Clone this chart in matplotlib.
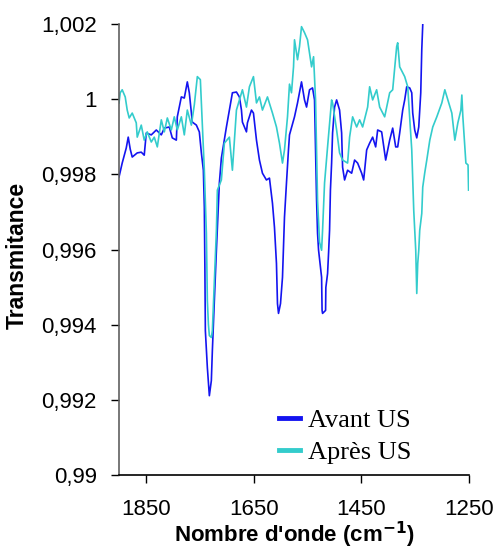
import matplotlib
matplotlib.use("Agg")
import matplotlib.pyplot as plt
from matplotlib.ticker import FuncFormatter

# Spectre avant ultrasons (nombre d'onde, transmittance)
avant_x = [1900, 1894.1, 1886.6, 1882.9, 1879.2, 1875.5, 1866.2, 1858.7, 1853.2, 1849.4,
           1840.1, 1830.8, 1821.5, 1815.9, 1806.7, 1801.1, 1793.6, 1791.8, 1784.3, 1778.8,
           1773.2, 1769.5, 1763.9, 1756.4, 1750.9, 1747.1, 1743.4, 1741.6, 1740.6, 1739.7,
           1736.0, 1732.3, 1728.6, 1726.7, 1723.0, 1719.2, 1713.7, 1710.0, 1700.6, 1695.1,
           1689.5, 1682.0, 1676.5, 1672.7, 1670.9, 1663.4, 1661.6, 1654.1, 1650.4, 1644.8,
           1639.3, 1633.7, 1626.3, 1620.7, 1615.1, 1611.4, 1607.7, 1605.8, 1603.9, 1600.2,
           1596.5, 1592.8, 1589.1, 1585.4, 1583.5, 1574.2, 1568.6, 1561.2, 1555.6, 1551.8,
           1546.3, 1540.7, 1537.0, 1533.2, 1531.4, 1529.5, 1523.9, 1523.0, 1522.1, 1516.5,
           1516.0, 1512.8, 1510.9, 1509.1, 1507.5, 1505.3, 1503.5, 1499.8, 1496.0, 1490.5,
           1486.7, 1484.9, 1481.2, 1475.6, 1468.1, 1462.6, 1457.0, 1449.5, 1445.8, 1440.2,
           1434.7, 1429.1, 1423.5, 1419.8, 1412.4, 1404.9, 1397.5, 1391.9, 1386.3, 1382.6,
           1378.9, 1373.3, 1369.6, 1365.9, 1360.3, 1356.5, 1354.7, 1351.0, 1347.2, 1343.5,
           1339.8, 1337.9, 1336.1, 1335.5]
avant_y = [0.99793, 0.99830, 0.99870, 0.99899, 0.99867, 0.99846, 0.99857, 0.99859, 0.99851, 0.99910,
           0.99905, 0.99918, 0.99905, 0.99923, 0.99926, 0.99897, 0.99891, 0.99953, 1.00006, 1.00003,
           1.00046, 1.00017, 0.99939, 0.99931, 0.99913, 0.99857, 0.99811, 0.99712, 0.99552, 0.99384,
           0.99286, 0.99211, 0.99251, 0.99331, 0.99464, 0.99598, 0.99777, 0.99843, 0.99926, 0.99971,
           1.00017, 1.00019, 1.00006, 0.99971, 0.99939, 0.99913, 0.99937, 0.99971, 0.99963, 0.99891,
           0.99838, 0.99803, 0.99785, 0.99790, 0.99723, 0.99659, 0.99563, 0.99456, 0.99430, 0.99456,
           0.99526, 0.99686, 0.99777, 0.99865, 0.99905, 0.99953, 0.99990, 1.00046, 0.99998, 0.99979,
           1.00025, 1.00030, 0.99998, 0.99731, 0.99643, 0.99598, 0.99526, 0.99438, 0.99430, 0.99438,
           0.99499, 0.99536, 0.99592, 0.99651, 0.99758, 0.99830, 0.99910, 0.99979, 0.99998, 0.99971,
           0.99910, 0.99819, 0.99785, 0.99811, 0.99803, 0.99838, 0.99830, 0.99803, 0.99785, 0.99865,
           0.99883, 0.99899, 0.99873, 0.99918, 0.99913, 0.99838, 0.99891, 0.99923, 0.99873, 0.99873,
           0.99910, 0.99971, 0.99998, 1.00033, 1.00030, 1.00017, 0.99963, 0.99918, 0.99897, 0.99926,
           1.00017, 1.00132, 1.00198, 1.00215]

# Spectre apres ultrasons
apres_x = [1900, 1897.8, 1894.1, 1888.5, 1884.8, 1881.1, 1875.5, 1868.0, 1866.2, 1858.7,
           1853.2, 1847.6, 1840.1, 1834.6, 1828.9, 1821.5, 1815.9, 1810.3, 1802.9, 1797.4,
           1791.8, 1784.3, 1778.8, 1773.2, 1765.7, 1760.2, 1754.6, 1749.0, 1747.1, 1745.3,
           1741.6, 1737.8, 1736.0, 1734.0, 1732.3, 1728.6, 1726.7, 1723.0, 1719.2, 1717.4,
           1710.0, 1704.4, 1695.1, 1689.5, 1685.8, 1682.0, 1676.5, 1670.9, 1663.4, 1657.9,
           1650.4, 1644.8, 1639.3, 1633.7, 1624.4, 1615.1, 1607.7, 1602.1, 1596.5, 1592.8,
           1587.2, 1583.5, 1579.8, 1576.0, 1574.2, 1568.6, 1564.9, 1561.2, 1555.6, 1550.0,
           1542.5, 1538.8, 1535.1, 1531.4, 1527.7, 1523.9, 1522.1, 1518.4, 1512.8, 1505.3,
           1503.5, 1496.0, 1490.5, 1484.9, 1475.6, 1471.9, 1466.3, 1458.8, 1453.3, 1447.7,
           1438.4, 1434.7, 1429.1, 1421.7, 1416.1, 1406.8, 1397.5, 1391.9, 1384.5, 1382.6,
           1378.9, 1369.6, 1364.0, 1356.5, 1352.8, 1349.1, 1347.2, 1345.4, 1343.5, 1341.7,
           1337.9, 1336.1, 1332.4, 1328.6, 1323.0, 1317.5, 1310.0, 1300.7, 1295.1, 1289.5,
           1282.1, 1276.5, 1270.9, 1265.3, 1263.5, 1261.6, 1256.0, 1252.0, 1251.0]
apres_y = [0.99990, 1.00017, 1.00025, 1.00006, 0.99971, 0.99950, 0.99963, 0.99937, 0.99899, 0.99931,
           0.99891, 0.99913, 0.99886, 0.99899, 0.99873, 0.99945, 0.99913, 0.99950, 0.99918, 0.99953,
           0.99918, 0.99953, 0.99905, 0.99971, 0.99931, 0.99985, 1.00060, 1.00052, 0.99990, 0.99926,
           0.99811, 0.99643, 0.99464, 0.99400, 0.99371, 0.99366, 0.99384, 0.99518, 0.99651, 0.99758,
           0.99785, 0.99883, 0.99899, 0.99811, 0.99891, 0.99971, 0.99998, 1.00025, 0.99979, 1.00033,
           1.00060, 0.99990, 1.00006, 0.99971, 1.00006, 0.99963, 0.99926, 0.99883, 0.99830, 0.99865,
           0.99953, 1.00040, 1.00017, 1.00086, 1.00158, 1.00105, 1.00140, 1.00193, 1.00177, 1.00158,
           1.00086, 1.00113, 0.99998, 0.99731, 0.99620, 0.99598, 0.99651, 0.99777, 0.99873, 0.99998,
           0.99990, 0.99918, 0.99857, 0.99838, 0.99830, 0.99899, 0.99953, 0.99926, 0.99945, 0.99926,
           0.99979, 1.00033, 0.99998, 1.00025, 0.99979, 0.99953, 1.00017, 1.00025, 1.00140, 1.00150,
           1.00086, 1.00060, 1.00033, 0.99865, 0.99704, 0.99598, 0.99483, 0.99563, 0.99598, 0.99651,
           0.99696, 0.99766, 0.99804, 0.99838, 0.99891, 0.99926, 0.99953, 0.99990, 1.00025, 0.99998,
           0.99963, 0.99891, 0.99937, 0.99971, 1.00011, 0.99953, 0.99830, 0.99825, 0.99758]

x_ticks = [1850, 1650, 1450, 1250]
y_ticks = [0.99, 0.992, 0.994, 0.996, 0.998, 1.0, 1.002]

plt.rcParams['font.family'] = ['Liberation Sans', 'DejaVu Sans']

fig = plt.figure(figsize=(4.98, 5.52), dpi=100)
ax = fig.add_axes([0.239, 0.1395, 0.703, 0.817])

ax.plot(avant_x, avant_y, color='#1414F0', lw=1.2, label='Avant US')
ax.plot(apres_x, apres_y, color='#33CCCC', lw=1.2, label='Après US')

ax.set_xlim(1900, 1250)
ax.set_ylim(0.99, 1.002)
ax.set_xticks(x_ticks)
ax.set_yticks(y_ticks)


def virgule(v, pos):
    s = ('%.3f' % v).rstrip('0').rstrip('.')
    return s.replace('.', ',')


ax.yaxis.set_major_formatter(FuncFormatter(virgule))
ax.tick_params(axis='both', direction='out', length=6, width=1, labelsize=16)
ax.tick_params(axis='y', pad=10)
ax.tick_params(axis='x', pad=11)

for side in ['top', 'right']:
    ax.spines[side].set_visible(False)
ax.spines['left'].set_color('#606060')
ax.spines['left'].set_linewidth(1.2)
ax.spines['bottom'].set_linewidth(1.2)

ax.set_xlabel("Nombre d'onde (cm$^{\\mathbf{-1}}$)", fontsize=16, fontweight='bold', labelpad=0)
ax.set_ylabel('Transmitance', fontsize=16.5, fontweight='bold')
ax.yaxis.set_label_coords(-0.258, 0.486)

leg = ax.legend(loc='lower left', bbox_to_anchor=(0.405, -0.016), frameon=False,
                prop={'family': 'Liberation Serif', 'size': 19},
                handlelength=0.8, handletextpad=0.3, labelspacing=0.3, borderpad=0.2)
for h in leg.get_lines():
    h.set_linewidth(3.5)

fig.savefig('out.png', dpi=100)
